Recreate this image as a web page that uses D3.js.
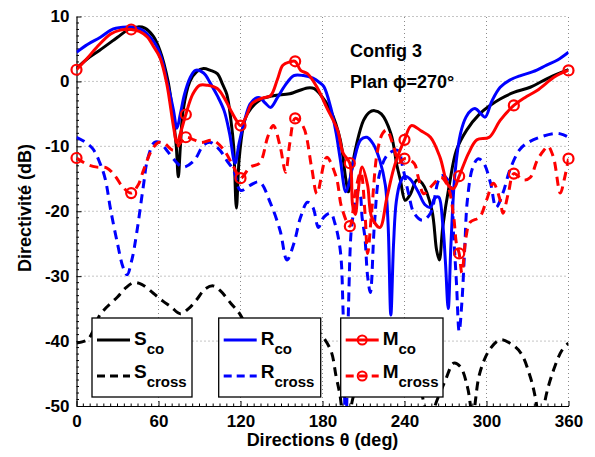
<!DOCTYPE html>
<html><head><meta charset="utf-8">
<script src="https://cdn.jsdelivr.net/npm/d3@7"></script>
<style>body{margin:0;background:#fff}svg{display:block}text{font-family:"Liberation Sans",Arial,sans-serif;font-weight:bold;fill:#000}</style>
</head><body><svg id="c" width="595" height="457"></svg>
<script>
// ---- data (theta in degrees, directivity in dB) ----
const xTicks = [0, 60, 120, 180, 240, 300, 360];
const yTicks = [10, 0, -10, -20, -30, -40, -50];
const markerAngles = [0, 40, 80, 120, 160, 200, 240, 280, 320, 360];

const sCoTheta = [0,8,17,30,38,45,50,56,61,67,71,73,74.5,76,78,83,88,93,98,103,107,110,113,115,117,119,122,125,134,144,156,169,174,178,186,193,197,199,201,205,210,214,218,223,230,234.5,237,240.5,244,249,253,260,263.5,265.5,268,273,278,285.5,295,302,310,320,332,346,360];
const sCoDb    = [2.0,3.5,4.8,6.8,8.0,8.4,8.2,7.0,4.8,0,-6,-10,-14.7,-10,-4.5,0,1.5,2.0,1.7,1.2,-0.5,-2,-6,-10,-19.5,-12,-7,-5,-2.9,-2.2,-1.9,-1.0,-1.1,-1.9,-4.5,-9,-15,-17,-14,-9.6,-6,-4.8,-4.5,-5,-8,-13,-15.2,-18.3,-17.5,-15.2,-15.7,-19.8,-26,-27.5,-22.4,-15.7,-10.6,-7.5,-5,-3.8,-2.7,-1.7,-0.9,0.6,1.8];

const sCrossTheta = [0,8,12,17,22,30,36,42,48,56,63,69,76,82,88,94,100,105,113,120,128,136,145,152,160,168,174,178,186,190,193,197,202,210,220,230,240,250,258,264,270,276,281,286,288,290,292,295,302,310,317,325,332,336,340,343,349,355,360];
const sCrossDb    = [-40.3,-39.8,-38.5,-36,-34.8,-33.2,-31.8,-31,-31.3,-32.6,-33.8,-34.7,-35.8,-35,-33.6,-32,-31.5,-32.2,-34.2,-36,-40,-45,-48,-46,-42,-39,-38.3,-38.8,-41.4,-45.5,-48.6,-56,-49,-44,-41,-40.5,-42,-46,-52,-49,-46,-43.4,-44,-47,-49.5,-53,-49,-45,-41.4,-39.8,-40.3,-41.8,-45.5,-49,-55,-49,-44.5,-41.5,-40.3];

const rCoTheta = [0,8,17.5,27,37,43,49,54,59,63,66,69,71,73.5,76,79,83,87,93,98,103,108,112,116,119,123,127,131,134,138,142,147,153,159,166,173,178,181,186,190,193,197,199,203,208,212.5,217,222,226,228,230,232,234,237,240,244,250,255,259,262,265,268,270,272,274,277,281,285,289,292,296,299,304,310,317,325,334,344,352,360];
const rCoDb    = [4.5,5.7,6.8,8.1,8.4,8.3,7.8,6.8,5.3,3,0.15,-2.5,-4.5,-7.2,-5,-2,0.5,1.7,1.3,-0.3,-2.2,-4.5,-8,-12.6,-9.5,-6,-3.5,-2.6,-2.5,-3.3,-4,-2.5,-0.5,0.9,0.9,0.5,-0.2,-0.8,-4,-8,-12,-17,-16,-12.2,-9,-8.6,-9.6,-12.2,-16,-22,-36,-25,-18.5,-15.5,-14.6,-15,-17,-19,-19.4,-18,-17.8,-22,-28,-35,-25,-14,-8,-5.5,-4.4,-4.2,-5,-5.5,-3,-0.9,0.2,0.9,1.5,2.5,3.3,4.5];

const rCrossTheta = [0,6,12,17,21,25,30,34,37,40.5,44,49,52,57,61,66,72,78,86,93,98,105,110,115,120,127,134,142,149,154,159,164,169,173,177,181,186,189,193,195,197,199,201,203,205,207,209,211,213,215,218,222,228,235,239,243,247,253,259,265,268,273,276,278,280,282,284,286,290,294,298,303,307,312,317,324,329,339,351,356,360];
const rCrossDb    = [-8.6,-9.3,-10.4,-12.5,-15,-19.8,-25,-28.6,-29.8,-27.5,-23.4,-16,-12,-9.4,-9.4,-10.6,-12.2,-13.2,-12.2,-9.8,-9.4,-10.6,-12.2,-13.7,-16.8,-16,-15.5,-18.8,-23,-27.5,-25,-20.9,-18.6,-19.4,-22.5,-20.9,-20.3,-21.8,-26,-35,-55,-35,-23,-19.8,-16.8,-17,-21,-24,-30,-32.5,-22,-14,-11.2,-10.6,-13.5,-17.3,-20.3,-21.4,-20.3,-15.2,-14.5,-15.7,-24,-31,-38.5,-34,-26,-18.3,-13.2,-11.9,-12.6,-15.7,-19.4,-17.2,-13.7,-10.6,-9.6,-8.6,-8,-8.2,-8.6];

const mCoTheta = [0,8,15,25,32,40,46,52,56,61,66,71,73.5,76,80,85,90,96,103,108,113,117,120,124,128,132,137,142,147,151,156,160,164,169,176,183,191,195,200,202,204,206,209,213,216,222,227,232,236,240,245,252,259,266,272,276,280,287,293,302,310,320,328,337,349,354,360];
const mCoDb    = [1.8,3.6,5.3,7.3,7.9,8.0,7.7,6.8,5.5,3.7,-0.3,-7,-9.5,-8,-5.1,-2,-0.6,-0.6,-1.1,-2.5,-4.5,-6,-6.8,-5.5,-3.5,-2.9,-2.5,-2.2,0.3,2.5,3.0,3.1,1.7,1.2,-0.9,-4,-7.5,-11,-12.6,-19,-20.5,-17,-13.2,-16,-20.9,-22.5,-18,-13.5,-11,-9,-6.8,-7.6,-8.6,-11.7,-16,-16.5,-14.6,-11,-9,-8.6,-6,-3.7,-2.5,-1.4,0.6,1.2,1.7];

const mCrossTheta = [0,8,15,22,28,34,40,45,49,55,60,64,71,76,80,86,91,100,108,115,120,127,134,140,144,149,153,156,160,166,172,176,183,190,194,200,204,208,211,213,216,220,224,227,232,236,240,247,250,254,259,264,267,272,276,278,280,282,285,288,295,300,305,310,312,316,320,327,332,337,342,345,349,354,357,360];
const mCrossDb    = [-11.8,-12.8,-13.2,-13.3,-14.5,-16.3,-17.2,-16,-13.7,-10.6,-9.4,-9.5,-10.6,-9.5,-8.6,-9,-9.4,-9.1,-10.6,-13.2,-14.9,-13.2,-12.6,-8.5,-6.8,-10,-14,-9.6,-5.7,-7,-13.2,-17.3,-11.7,-14.7,-19.4,-22.3,-17,-14,-20,-26.5,-20,-11,-8,-7.5,-10,-12.5,-11.9,-12.6,-14.7,-17.3,-16.3,-15.2,-14.8,-16.3,-20.9,-25,-26.5,-29.5,-24,-21.7,-20.9,-18.3,-15.7,-18.3,-20.3,-17.2,-14.2,-15.2,-14.8,-12.2,-10.6,-10,-11.7,-17.2,-15,-11.9];

// ---- chart ----
const svg = d3.select("#c");
const L = 76.5, R = 568.5, T = 16.5, B = 406;
const x = d3.scaleLinear().domain([0, 360]).range([L, R]);
const y = d3.scaleLinear().domain([-50, 10]).range([B, T]);

svg.append("defs").append("clipPath").attr("id", "clip")
  .append("rect").attr("x", L).attr("y", T).attr("width", R - L).attr("height", B - T);

// grid
const grid = svg.append("g").attr("stroke", "#8a8a8a").attr("stroke-width", 1).attr("stroke-dasharray", "1,3");
xTicks.filter(d => d > 0).forEach(d => grid.append("line").attr("x1", x(d)).attr("x2", x(d)).attr("y1", B).attr("y2", T));
yTicks.filter(d => d > -50).forEach(d => grid.append("line").attr("x1", L).attr("x2", R).attr("y1", y(d)).attr("y2", y(d)));

// axes
const xAxis = d3.axisBottom(x).tickValues(xTicks).tickSize(-5).tickPadding(9).tickSizeOuter(0);
const yAxis = d3.axisLeft(y).tickValues(yTicks).tickSize(-5).tickPadding(7).tickSizeOuter(0);
const gx = svg.append("g").attr("transform", `translate(0,${B})`).call(xAxis);
const gy = svg.append("g").attr("transform", `translate(${L},0)`).call(yAxis);
[gx, gy].forEach(g => {
  g.select(".domain").attr("stroke", "#000").attr("stroke-width", 1.2);
  g.selectAll(".tick line").attr("stroke", "#000");
  g.selectAll(".tick text").attr("font-size", 17).attr("font-weight", "bold").attr("font-family", "Liberation Sans, Arial, sans-serif").attr("fill", "#000");
});
gy.selectAll(".tick text").text(d => d < 0 ? "-" + Math.abs(d) : d);
// minor ticks
const minor = svg.append("g").attr("stroke", "#000").attr("stroke-width", 1);
d3.range(5, 360, 5).filter(d => d % 60).forEach(d => minor.append("line").attr("x1", x(d)).attr("x2", x(d)).attr("y1", B).attr("y2", B - 2.5));
d3.range(-49, 10, 1).filter(d => d % 10).forEach(d => minor.append("line").attr("x1", L).attr("x2", L + 2.5).attr("y1", y(d)).attr("y2", y(d)));

// labels
svg.append("text").attr("x", (L + R) / 2).attr("y", 446).attr("text-anchor", "middle").attr("font-size", 18).text("Directions θ (deg)");
svg.append("text").attr("transform", "translate(30.5,208) rotate(-90)").attr("text-anchor", "middle").attr("font-size", 18).text("Directivité (dB)");
svg.append("text").attr("x", 350).attr("y", 57).attr("font-size", 18).text("Config 3");
svg.append("text").attr("x", 350).attr("y", 88).attr("font-size", 18).text("Plan ϕ=270°");

// series
const plot = svg.append("g").attr("clip-path", "url(#clip)");
const line = d3.line().x(d => x(d[0])).y(d => y(d[1])).curve(d3.curveCatmullRom.alpha(0.5));
const zip = (a, b) => a.map((t, i) => [t, b[i]]);
const series = [
  {th: sCoTheta, db: sCoDb, color: "#000", dash: null},
  {th: sCrossTheta, db: sCrossDb, color: "#000", dash: "9,6"},
  {th: rCoTheta, db: rCoDb, color: "#0000ff", dash: null},
  {th: rCrossTheta, db: rCrossDb, color: "#0000ff", dash: "9,6"},
  {th: mCoTheta, db: mCoDb, color: "#ff0000", dash: null, marks: true},
  {th: mCrossTheta, db: mCrossDb, color: "#ff0000", dash: "9,6", marks: true}
];
series.forEach(s => {
  const pts = zip(s.th, s.db);
  plot.append("path").datum(pts).attr("d", line).attr("fill", "none")
    .attr("stroke", s.color).attr("stroke-width", 3).attr("stroke-dasharray", s.dash)
    .attr("stroke-linejoin", "round");
  if (s.marks) {
    const mk = markerAngles.map(a => [a, s.db[s.th.indexOf(a)]]);
    svg.append("g").selectAll("circle").data(mk).join("circle")
      .attr("cx", d => x(d[0])).attr("cy", d => y(d[1])).attr("r", 5)
      .attr("fill", "none").attr("stroke", s.color).attr("stroke-width", 2.2);
  }
});

// legends
const legends = [
  {x0: 92, x1: 192, name: "S", color: "#000", marks: false},
  {x0: 218.7, x1: 320.7, name: "R", color: "#0000ff", marks: false},
  {x0: 340.7, x1: 443, name: "M", color: "#ff0000", marks: true}
];
const subs = [{sub: "co", dash: null, ly: 340, base: 345}, {sub: "cross", dash: "9,6", ly: 376, base: 378}];
legends.forEach(l => {
  const g = svg.append("g");
  g.append("rect").attr("x", l.x0).attr("y", 318).attr("width", l.x1 - l.x0).attr("height", 79)
    .attr("fill", "#fff").attr("stroke", "#000").attr("stroke-width", 1.3);
  subs.forEach(s => {
    const lx0 = l.x0 + 5, lx1 = l.x0 + 38;
    g.append("line").attr("x1", lx0).attr("x2", lx1).attr("y1", s.ly).attr("y2", s.ly)
      .attr("stroke", l.color).attr("stroke-width", 3).attr("stroke-dasharray", s.dash ? "8,5" : null);
    if (l.marks) g.append("circle").attr("cx", (lx0 + lx1) / 2).attr("cy", s.ly).attr("r", 4.5)
      .attr("fill", "none").attr("stroke", l.color).attr("stroke-width", 2);
    const t = g.append("text").attr("x", l.x0 + 42).attr("y", s.base).attr("font-size", 19);
    t.append("tspan").text(l.name);
    t.append("tspan").attr("dy", 8.5).attr("font-size", 15).text(s.sub);
  });
});
</script></body></html>
